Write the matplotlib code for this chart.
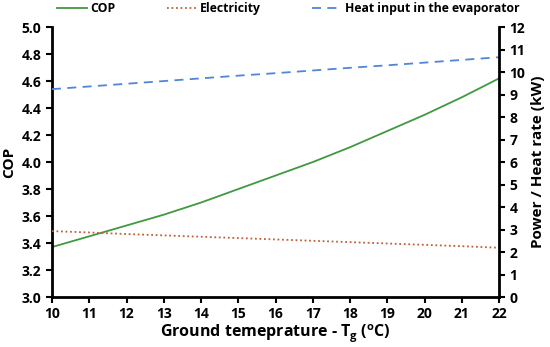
import numpy as np
import matplotlib
matplotlib.use("Agg")
import matplotlib.pyplot as plt

plt.rcParams['font.family'] = ['Open Sans', 'DejaVu Sans']
plt.rcParams['font.weight'] = 'bold'

# ground temperature (C)
t_ground = [10, 11, 12, 13, 14, 15, 16, 17, 18, 19, 20, 21, 22]
# COP (left axis)
cop = [3.37, 3.45, 3.53, 3.61, 3.70, 3.80, 3.90, 4.00, 4.11, 4.23, 4.35, 4.48, 4.62]
# electricity and evaporator heat input (kW, right axis)
electricity = [2.93, 2.87, 2.80, 2.74, 2.68, 2.62, 2.56, 2.50, 2.44, 2.38, 2.32, 2.26, 2.19]
heat_input = [9.24, 9.36, 9.48, 9.60, 9.72, 9.84, 9.95, 10.07, 10.19, 10.30, 10.42, 10.54, 10.66]

fig = plt.figure(figsize=(5.5, 3.47), dpi=100)
ax = fig.add_axes([0.0945, 0.144, 0.813, 0.778])
ax2 = ax.twinx()

l1, = ax.plot(t_ground, cop, color='#3f9a3f', lw=1.3, label='COP')
l2, = ax2.plot(t_ground, electricity, color='#c0603a', lw=1.3, ls=(0, (1, 1.5)), label='Electricity')
l3, = ax2.plot(t_ground, heat_input, color='#4f86d9', lw=1.3, ls=(0, (5, 3.5)), label='Heat input in the evaporator')

ax.set_xlim(10, 22)
ax.set_ylim(3.0, 5.0)
ax2.set_ylim(0, 12)
ax.set_xticks(range(10, 23))
ax.set_yticks(np.arange(3.0, 5.01, 0.2))
ax.set_yticklabels(['%.1f' % v for v in np.arange(3.0, 5.01, 0.2)])
ax2.set_yticks(range(0, 13))

for a in (ax, ax2):
    a.spines['top'].set_visible(False)
    for s in ('left', 'right', 'bottom'):
        a.spines[s].set_linewidth(2)
    a.tick_params(width=1.5, length=4, labelsize=10, direction='out')
ax.spines['right'].set_visible(False)
ax2.spines['left'].set_visible(False)
ax2.spines['bottom'].set_visible(False)

ax.set_xlabel('Ground temeprature - T$_\\mathregular{g}$ ($^\\mathregular{o}$C)', fontsize=11.5,
              fontweight='bold', labelpad=1)
ax.set_ylabel('COP', fontsize=11, fontweight='bold')
ax2.set_ylabel('Power / Heat rate (kW)', fontsize=11, fontweight='bold')

fig.legend(handles=[l1, l2, l3], loc='upper left', ncol=3, frameon=False,
           bbox_to_anchor=(0.1, 1.0), borderaxespad=0, borderpad=0.2, fontsize=8.8,
           handlelength=2.4, handletextpad=0.3, columnspacing=4.2)

fig.savefig('out.png', dpi=100)
